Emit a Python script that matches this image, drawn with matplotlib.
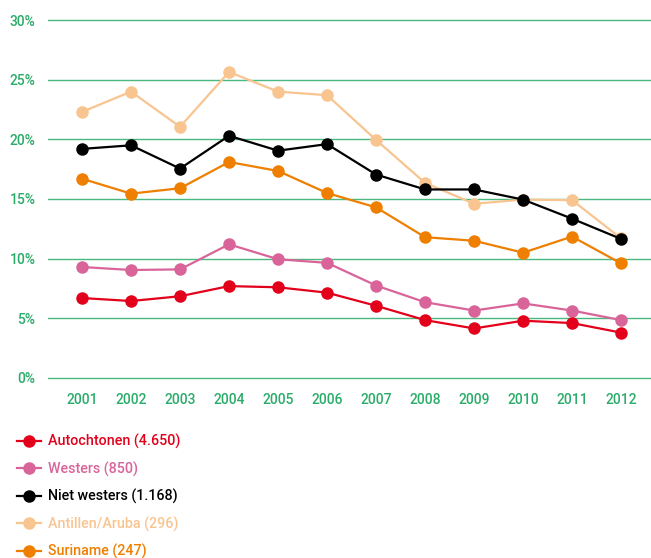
import numpy as np
import matplotlib.pyplot as plt

plt.rcParams['font.family'] = ['Roboto', 'DejaVu Sans']
plt.rcParams['font.weight'] = 'medium'

years = [2001, 2002, 2003, 2004, 2005, 2006, 2007, 2008, 2009, 2010, 2011, 2012]

autochtonen = [6.7, 6.45, 6.85, 7.7, 7.6, 7.15, 6.05, 4.85, 4.15, 4.8, 4.6, 3.8]
westers = [9.3, 9.05, 9.1, 11.2, 9.95, 9.65, 7.75, 6.35, 5.65, 6.25, 5.65, 4.85]
niet_westers = [19.2, 19.5, 17.55, 20.3, 19.05, 19.6, 17.05, 15.8, 15.8, 14.95, 13.35, 11.65]
antillen = [22.3, 24.0, 21.05, 25.65, 24.0, 23.7, 19.95, 16.35, 14.6, 14.95, 14.9, 11.7]
suriname = [16.7, 15.45, 15.9, 18.1, 17.35, 15.5, 14.3, 11.8, 11.5, 10.5, 11.85, 9.6]

series = [
    ("Antillen/Aruba (296)", antillen, "#f8c48f"),
    ("Suriname (247)", suriname, "#ee7f00"),
    ("Niet westers (1.168)", niet_westers, "#000000"),
    ("Westers (850)", westers, "#d9649a"),
    ("Autochtonen (4.650)", autochtonen, "#e3001b"),
]
legend_order = ["Autochtonen (4.650)", "Westers (850)", "Niet westers (1.168)",
                "Antillen/Aruba (296)", "Suriname (247)"]

green = "#2bac6a"

fig = plt.figure(figsize=(6.51, 5.58), dpi=100)
# axes spans a little more than 0..30 so the 0% and 30% lines are not clipped
ax = fig.add_axes([48 / 651, 1 - 380 / 558, 603 / 651, 362 / 558])

handles = {}
for name, vals, col in series:
    ln, = ax.plot(years, vals, color=col, lw=1.6, marker='o', markersize=9,
                  markeredgewidth=0, label=name)
    handles[name] = ln

ax.set_ylim(-0.17, 30.17)
ax.set_xlim(2000.306, 2012.61)
ax.set_yticks(range(0, 31, 5))
ax.set_yticklabels([f"{v}%" for v in range(0, 31, 5)])
ax.set_xticks(years)
ax.grid(axis='y', color=green, lw=1, alpha=0.85)
ax.set_axisbelow(True)
for s in ax.spines.values():
    s.set_visible(False)
ax.tick_params(axis='both', length=0, colors=green, labelsize=10)
ax.tick_params(axis='y', pad=9)
ax.tick_params(axis='x', pad=9)

leg = fig.legend([handles[n] for n in legend_order], legend_order,
                 loc='upper left', bbox_to_anchor=(17 / 651, 1 - 434 / 558),
                 frameon=False, fontsize=10.3, handlelength=1.7, handletextpad=0.5,
                 labelspacing=0.86, borderpad=0, borderaxespad=0)
for txt, n in zip(leg.get_texts(), legend_order):
    txt.set_color(handles[n].get_color())

fig.savefig("out.png", dpi=100)
